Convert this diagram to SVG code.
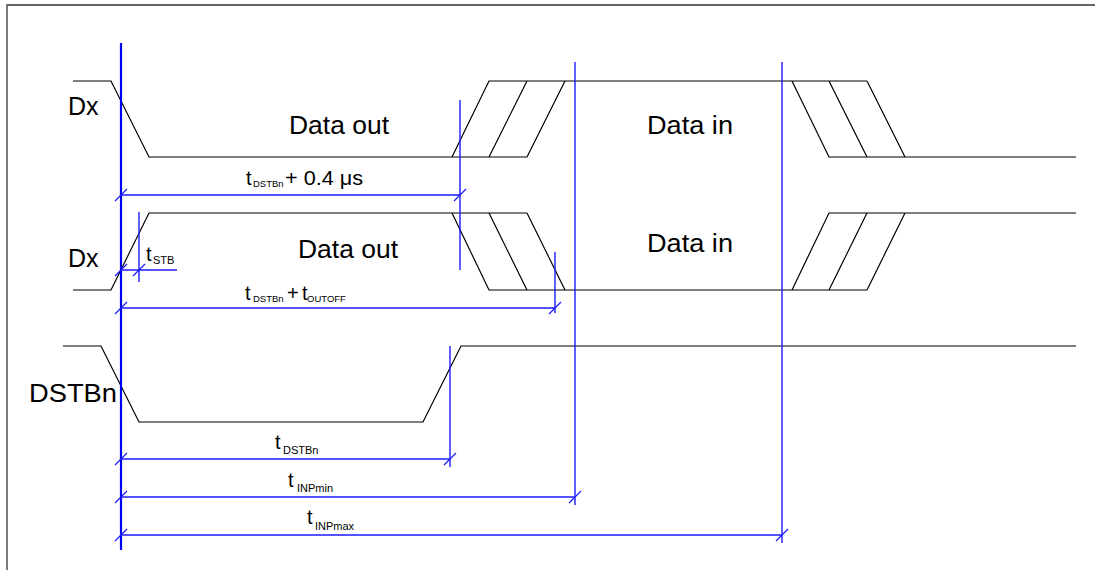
<svg xmlns="http://www.w3.org/2000/svg" width="1095" height="570" viewBox="0 0 1095 570">
<style>
.wave{fill:none;stroke:#000;stroke-width:1.2}
.dim{fill:none;stroke:#1a1aff;stroke-width:1.4}
.tick{stroke:#1a1aff;stroke-width:1.2}
.frame{stroke:#333;stroke-width:1.3;fill:none}
text{font-family:"Liberation Sans",Arial,sans-serif;fill:#000}
.big{font-size:25px}
.lab{font-size:20px}
</style>
<rect width="1095" height="570" fill="#fff"/>
<path class="frame" d="M7,570 V5 H1095"/>
<g id="signal-dx1">
<path class="wave" d="M73,81 H111 L149,157 H527 M452,157 L489,81 H867 M489,157 L527,81 M527,157 L565,81 M792,81 L829,157 H1076 M829,81 L867,157 M867,81 L905,157"/>
<text class="big" x="68" y="115">Dx</text>
<text class="big" x="289" y="134" textLength="100" lengthAdjust="spacingAndGlyphs">Data out</text>
<text class="big" x="647" y="134" textLength="86" lengthAdjust="spacingAndGlyphs">Data in</text>
</g>
<g id="signal-dx2">
<path class="wave" d="M73,290 H111 L149,213 H527 M452,213 L489,290 H867 M489,213 L527,290 M527,213 L565,290 M792,290 L829,213 H1076 M829,290 L867,213 M867,290 L905,213"/>
<text class="big" x="68" y="267">Dx</text>
<text class="big" x="298" y="258" textLength="100" lengthAdjust="spacingAndGlyphs">Data out</text>
<text class="big" x="647" y="252" textLength="86" lengthAdjust="spacingAndGlyphs">Data in</text>
</g>
<g id="signal-dstbn">
<path class="wave" d="M63,346 H101 L139,422 H423 L461,346 H1076"/>
<text class="big" x="29" y="402" textLength="88" lengthAdjust="spacingAndGlyphs">DSTBn</text>
</g>
<g id="connectors">
<line x1="121" y1="43" x2="121" y2="550" stroke="#0000ee" stroke-width="2.2"/>
<line class="dim" x1="460" y1="100" x2="460" y2="270"/>
<line class="dim" x1="555" y1="252" x2="555" y2="313"/>
<line class="dim" x1="575" y1="62" x2="575" y2="505"/>
<line class="dim" x1="782" y1="62" x2="782" y2="543"/>
<line class="dim" x1="450" y1="346" x2="450" y2="467"/>
<line class="dim" x1="139" y1="212" x2="139" y2="282"/>
<line class="dim" x1="121" y1="195" x2="460" y2="195"/>
<line class="dim" x1="121" y1="308" x2="555" y2="308"/>
<line class="dim" x1="121" y1="270" x2="177" y2="270"/>
<line class="dim" x1="121" y1="459" x2="450" y2="459"/>
<line class="dim" x1="121" y1="497" x2="575" y2="497"/>
<line class="dim" x1="121" y1="535" x2="782" y2="535"/>
<path class="tick" d="M115,201 L127,189 M454,201 L466,189 M115,314 L127,302 M549,314 L561,302 M115,276 L127,264 M133,276 L145,264 M115,465 L127,453 M444,465 L456,453 M115,503 L127,491 M569,503 L581,491 M115,541 L127,529 M776,541 L788,529"/>
</g>
<g id="labels">
<text class="lab" x="246" y="185">t</text><text x="253" y="187" font-size="9.5">DSTBn</text><text class="lab" x="285" y="185" textLength="78" lengthAdjust="spacingAndGlyphs">+ 0.4 μs</text>
<text class="lab" x="245" y="300">t</text><text x="253" y="302" font-size="9.5">DSTBn</text><text class="lab" x="287" y="300">+</text><text class="lab" x="302" y="300">t</text><text x="307" y="302" font-size="9.5">OUTOFF</text>
<text class="lab" x="146" y="261">t</text><text x="153" y="264" font-size="11">STB</text>
<text class="lab" x="275" y="449">t</text><text x="283" y="454" font-size="11">DSTBn</text>
<text class="lab" x="288" y="487">t</text><text x="297" y="492" font-size="11">INPmin</text>
<text class="lab" x="307" y="524">t</text><text x="315" y="530" font-size="11">INPmax</text>
</g>
</svg>
